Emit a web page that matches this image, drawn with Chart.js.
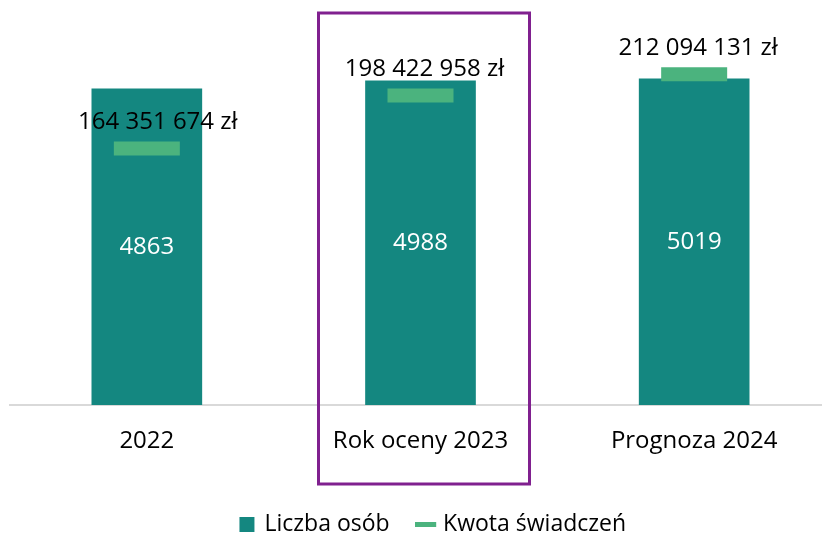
<!DOCTYPE html>
<html>
<head>
<meta charset="utf-8">
<script src="https://cdn.jsdelivr.net/npm/chart.js@4/dist/chart.umd.min.js"></script>
<style>
  html, body { margin: 0; padding: 0; background: #ffffff; overflow: hidden; }
  #wrap { width: 832px; height: 536px; position: relative; }
</style>
</head>
<body>
<div id="wrap"><canvas id="chart"></canvas></div>
<script>
const categories = ['2022', 'Rok oceny 2023', 'Prognoza 2024'];
const liczbaOsob = [4863, 4988, 5019];
const kwotaSwiadczen = [164351674, 198422958, 212094131];
const seriesNames = ['Liczba osób', 'Kwota świadczeń'];

const barColor = '#148780';
const lineColor = '#4bb37e';
const fontFamily = '"Open Sans", sans-serif';

const fmtZl = v => String(v).replace(/\B(?=(\d{3})+(?!\d))/g, ' ') + ' zł';

// labels on bars and above the markers, plus the purple highlight frame
const labelsPlugin = {
    id: 'labels',
    afterLayout(chart) {
        // legend trailing padding pushes it left, nudge back to centre
        if (chart.legend) {
            chart.legend.left += 13;
            chart.legend.right += 13;
        }
    },
    afterDatasetsDraw(chart) {
        const ctx = chart.ctx;
        ctx.save();
        ctx.textAlign = 'center';
        ctx.textBaseline = 'middle';
        ctx.font = '24px ' + fontFamily;

        const bars = chart.getDatasetMeta(0).data;
        bars.forEach((bar, i) => {
            ctx.fillStyle = '#ffffff';
            ctx.fillText(String(liczbaOsob[i]), bar.x, (bar.y + bar.base) / 2);
        });

        const pts = chart.getDatasetMeta(1).data;
        pts.forEach((p, i) => {
            ctx.fillStyle = '#000000';
            const dx = i === 0 ? 11 : 4;
            ctx.fillText(fmtZl(kwotaSwiadczen[i]), p.x + dx, p.y - 26);
        });

        // highlight frame around the evaluated year
        const xc = chart.scales.x.getPixelForValue(1);
        ctx.strokeStyle = '#80208f';
        ctx.lineWidth = 3;
        ctx.strokeRect(xc - 102, 13, 211, 471);
        ctx.restore();
    }
};

new Chart(document.getElementById('chart'), {
    data: {
        labels: categories,
        datasets: [
            {
                type: 'bar',
                label: seriesNames[0],
                data: liczbaOsob,
                backgroundColor: barColor,
                barThickness: 110,
                yAxisID: 'y',
                order: 2
            },
            {
                type: 'line',
                label: seriesNames[1],
                data: kwotaSwiadczen,
                showLine: false,
                pointStyle: 'line',
                pointRadius: 33,
                pointHoverRadius: 33,
                pointBorderWidth: 14,
                pointHoverBorderWidth: 14,
                borderColor: lineColor,
                backgroundColor: lineColor,
                yAxisID: 'y2',
                order: 1
            }
        ]
    },
    options: {
        responsive: true,
        maintainAspectRatio: false,
        animation: false,
        events: [],
        layout: { autoPadding: false, padding: { left: 10, right: 1, top: 15, bottom: -10 } },
        plugins: {
            tooltip: { enabled: false },
            legend: {
                position: 'bottom',
                labels: {
                    usePointStyle: true,
                    color: '#000000',
                    font: { family: fontFamily, size: 23 },
                    padding: 30,
                    boxWidth: 12,
                    boxHeight: 15,
                    generateLabels: () => [
                        { text: seriesNames[0], fillStyle: barColor, strokeStyle: barColor, lineWidth: 0, pointStyle: 'rect', datasetIndex: 0 },
                        { text: seriesNames[1], fillStyle: lineColor, strokeStyle: lineColor, lineWidth: 5, pointStyle: 'line', datasetIndex: 1 }
                    ]
                }
            }
        },
        scales: {
            x: {
                grid: { display: false },
                border: { display: true, color: '#d9d9d9', width: 2 },
                ticks: { color: '#000000', font: { family: fontFamily, size: 24 }, padding: 14 },
                afterFit: s => { s.height = 78; s.paddingLeft = 0; s.paddingRight = 0; }
            },
            y: { display: false, min: 0, max: 6000 },
            y2: { display: false, min: 0, max: 250000000 }
        }
    },
    plugins: [labelsPlugin]
});
</script>
</body>
</html>
